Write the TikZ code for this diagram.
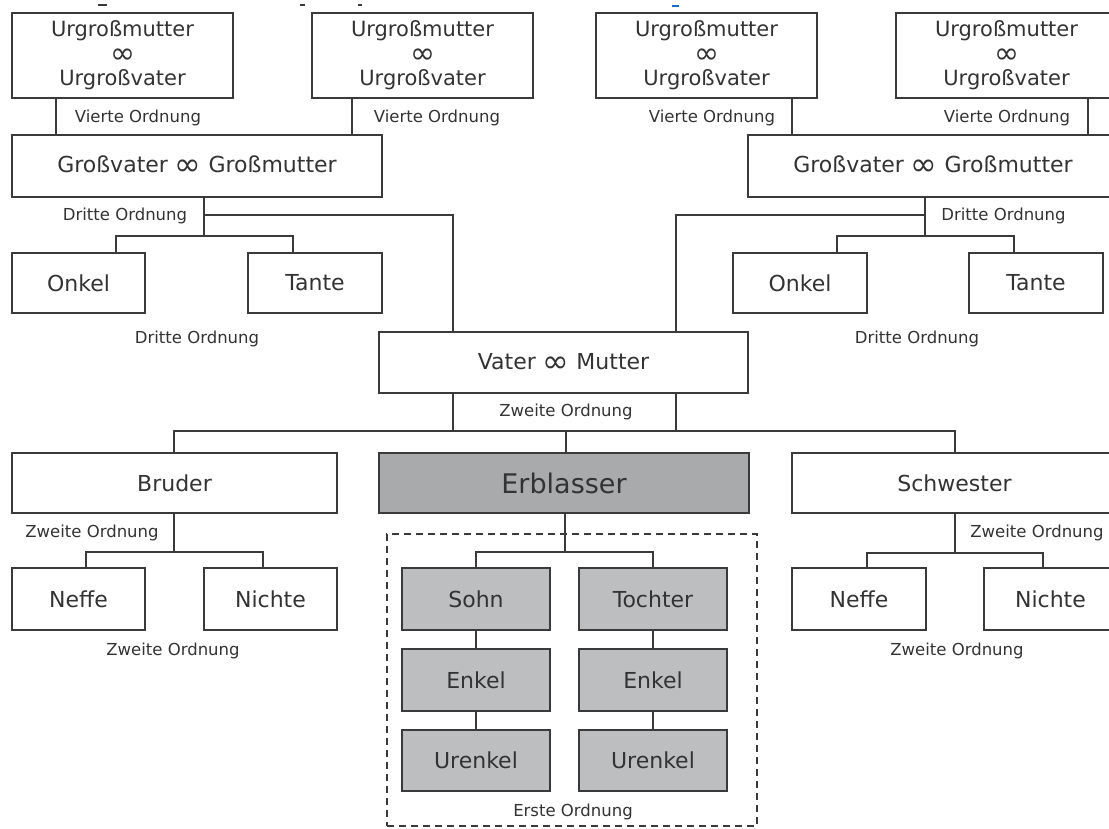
\documentclass[tikz,border=0pt]{standalone}
\usepackage{fontspec}
\setmainfont{DejaVu Sans}
\definecolor{linec}{HTML}{3A3A3A}
\definecolor{textc}{HTML}{333333}
\definecolor{erbfill}{HTML}{A9AAAC}
\definecolor{kidfill}{HTML}{BDBEC0}
\definecolor{bluemark}{HTML}{1A6FC0}
\newcommand\bigINF{\raisebox{-3pt}{\fontsize{32}{24}\selectfont ∞}}
\newcommand\midINF{\raisebox{-2pt}{\fontsize{30}{24}\selectfont ∞}}
\tikzset{
  box/.style={draw=linec, line width=1.8pt, fill=white, inner sep=0pt, outer sep=0pt,
    text=textc, font=\fontsize{22}{26}\selectfont, align=center},
  ugbox/.style={box, font=\fontsize{21}{24.5}\selectfont, minimum width=221pt, minimum height=85pt},
  erbbox/.style={box, fill=erbfill, font=\fontsize{27}{30}\selectfont},
  kidbox/.style={box, fill=kidfill, minimum width=148pt, minimum height=62pt},
  bx/.style 2 args={minimum width=#1pt, minimum height=#2pt},
  conn/.style={draw=linec, line width=1.4pt},
  lbl/.style={text=textc, font=\fontsize{16.5}{19}\selectfont, inner sep=0pt},
  dashbox/.style={draw=linec, line width=1.4pt, dash pattern=on 7pt off 5pt, inner sep=0pt, outer sep=0pt}
}
\begin{document}
\begin{tikzpicture}[x=1pt,y=-1pt]
\clip (0,0) rectangle (1109,828);
\fill[white] (0,0) rectangle (1109,828);

% small marks at the top edge
\draw[linec, line width=1.3pt] (98,5) -- (107,5);
\draw[linec, line width=1.3pt] (300,5) -- (305,5);
\draw[linec, line width=1.3pt] (358,5) -- (362,5);
\draw[bluemark, line width=1.6pt] (672,6) -- (679,6);

% great-grandparents
\node[ugbox] (ug1) at (122.5,55.5) {Urgroßmutter\\\midINF\\Urgroßvater};
\node[ugbox] (ug2) at (422.5,55.5) {Urgroßmutter\\\midINF\\Urgroßvater};
\node[ugbox] (ug3) at (706.5,55.5) {Urgroßmutter\\\midINF\\Urgroßvater};
\node[ugbox] (ug4) at (1006.5,55.5) {Urgroßmutter\\\midINF\\Urgroßvater};

% grandparents
\node[box, bx={370}{62}] (gvl) at (197,166) {Großvater \bigINF\ Großmutter};
\node[box, bx={370}{62}] (gvr) at (933,166) {Großvater \bigINF\ Großmutter};

% uncles and aunts
\node[box, bx={133}{60}] (onkl) at (78.5,283) {Onkel};
\node[box, bx={134}{60}] (tantl) at (315,283) {Tante};
\node[box, bx={134}{60}] (onkr) at (800,283) {Onkel};
\node[box, bx={134}{60}] (tantr) at (1036,283) {Tante};

% parents
\node[box, bx={369}{61}] (vater) at (563.5,362.5) {Vater \bigINF\ Mutter};

% siblings
\node[box, bx={325}{60}] (bruder) at (174.5,483) {Bruder};
\node[box, bx={325}{60}] (schw) at (954.5,483) {Schwester};

% nephews and nieces
\node[box, bx={133}{62}] (neffl) at (78.5,599) {Neffe};
\node[box, bx={133}{62}] (nichl) at (270.5,599) {Nichte};
\node[box, bx={134}{62}] (neffr) at (859,599) {Neffe};
\node[box, bx={133}{62}] (nichr) at (1050.5,599) {Nichte};

% first order (dashed frame)
\node[dashbox, minimum width=370pt, minimum height=292pt] (erste) at (572,680) {};
\node[lbl] (lerste) at (573,812) {Erste Ordnung};

\node[erbbox, bx={370}{60}] (erb) at (564,483) {Erblasser};
\node[kidbox] (sohn) at (476,599) {Sohn};
\node[kidbox] (toch) at (653,599) {Tochter};
\node[kidbox] (enk1) at (476,680) {Enkel};
\node[kidbox] (enk2) at (653,680) {Enkel};
\node[kidbox, minimum height=61pt] (uenk1) at (476,760.5) {Urenkel};
\node[kidbox, minimum height=61pt] (uenk2) at (653,760.5) {Urenkel};

% labels
\node[lbl] at (138,118) {Vierte Ordnung};
\node[lbl] at (437,118) {Vierte Ordnung};
\node[lbl] at (712,118) {Vierte Ordnung};
\node[lbl] at (1007,118) {Vierte Ordnung};
\node[lbl] at (125,216) {Dritte Ordnung};
\node[lbl] at (1003.5,216) {Dritte Ordnung};
\node[lbl] at (197,339) {Dritte Ordnung};
\node[lbl] at (917,339) {Dritte Ordnung};
\node[lbl] at (566,412) {Zweite Ordnung};
\node[lbl] at (92,533) {Zweite Ordnung};
\node[lbl] at (1037,533) {Zweite Ordnung};
\node[lbl] at (173,651) {Zweite Ordnung};
\node[lbl] at (957,651) {Zweite Ordnung};

% connector coordinates
\coordinate (c1) at (56,0);
\coordinate (c2) at (352,0);
\coordinate (c3) at (792,0);
\coordinate (c4) at (1088,0);
\coordinate (gsl) at (204,236);
\coordinate (ghl) at (204,215);
\coordinate (vtl) at (453,215);
\coordinate (bol) at (116,236);
\coordinate (btl) at (293,236);
\coordinate (gsr) at (925,236);
\coordinate (ghr) at (925,215);
\coordinate (vtr) at (676,215);
\coordinate (bor) at (837,236);
\coordinate (btr) at (1014,236);
\coordinate (zl) at (453,431);
\coordinate (zr) at (676,431);
\coordinate (zb) at (174,431);
\coordinate (ze) at (566,431);
\coordinate (zs) at (955,431);
\coordinate (bb) at (174,552);
\coordinate (bn1) at (86,552);
\coordinate (bn2) at (263,552);
\coordinate (sb) at (955,553);
\coordinate (sn1) at (867,553);
\coordinate (sn2) at (1043,553);
\coordinate (eb) at (565,552);
\coordinate (ek1) at (476,552);
\coordinate (ek2) at (653,552);

% great-grandparents to grandparents
\draw[conn] (ug1.south -| c1) -- (gvl.north -| c1);
\draw[conn] (ug2.south -| c2) -- (gvl.north -| c2);
\draw[conn] (ug3.south -| c3) -- (gvr.north -| c3);
\draw[conn] (ug4.south -| c4) -- (gvr.north -| c4);

% grandparents left
\draw[conn] (gvl.south -| gsl) -- (gsl);
\draw[conn] (onkl.north -| bol) -- (bol) -- (btl) -- (tantl.north -| btl);
\draw[conn] (ghl) -- (vtl) -- (vater.north -| vtl);
% grandparents right
\draw[conn] (gvr.south -| gsr) -- (gsr);
\draw[conn] (onkr.north -| bor) -- (bor) -- (btr) -- (tantr.north -| btr);
\draw[conn] (ghr) -- (vtr) -- (vater.north -| vtr);

% parents to children
\draw[conn] (vater.south -| zl) -- (zl);
\draw[conn] (vater.south -| zr) -- (zr);
\draw[conn] (bruder.north -| zb) -- (zb) -- (zs) -- (schw.north -| zs);
\draw[conn] (ze) -- (erb.north -| ze);

% brother
\draw[conn] (bruder.south -| bb) -- (bb);
\draw[conn] (neffl.north -| bn1) -- (bn1) -- (bn2) -- (nichl.north -| bn2);
% sister
\draw[conn] (schw.south -| sb) -- (sb);
\draw[conn] (neffr.north -| sn1) -- (sn1) -- (sn2) -- (nichr.north -| sn2);
% Erblasser
\draw[conn] (erb.south -| eb) -- (eb);
\draw[conn] (sohn.north -| ek1) -- (ek1) -- (ek2) -- (toch.north -| ek2);
\draw[conn] (sohn) -- (enk1);
\draw[conn] (enk1) -- (uenk1);
\draw[conn] (toch) -- (enk2);
\draw[conn] (enk2) -- (uenk2);
\end{tikzpicture}
\end{document}
